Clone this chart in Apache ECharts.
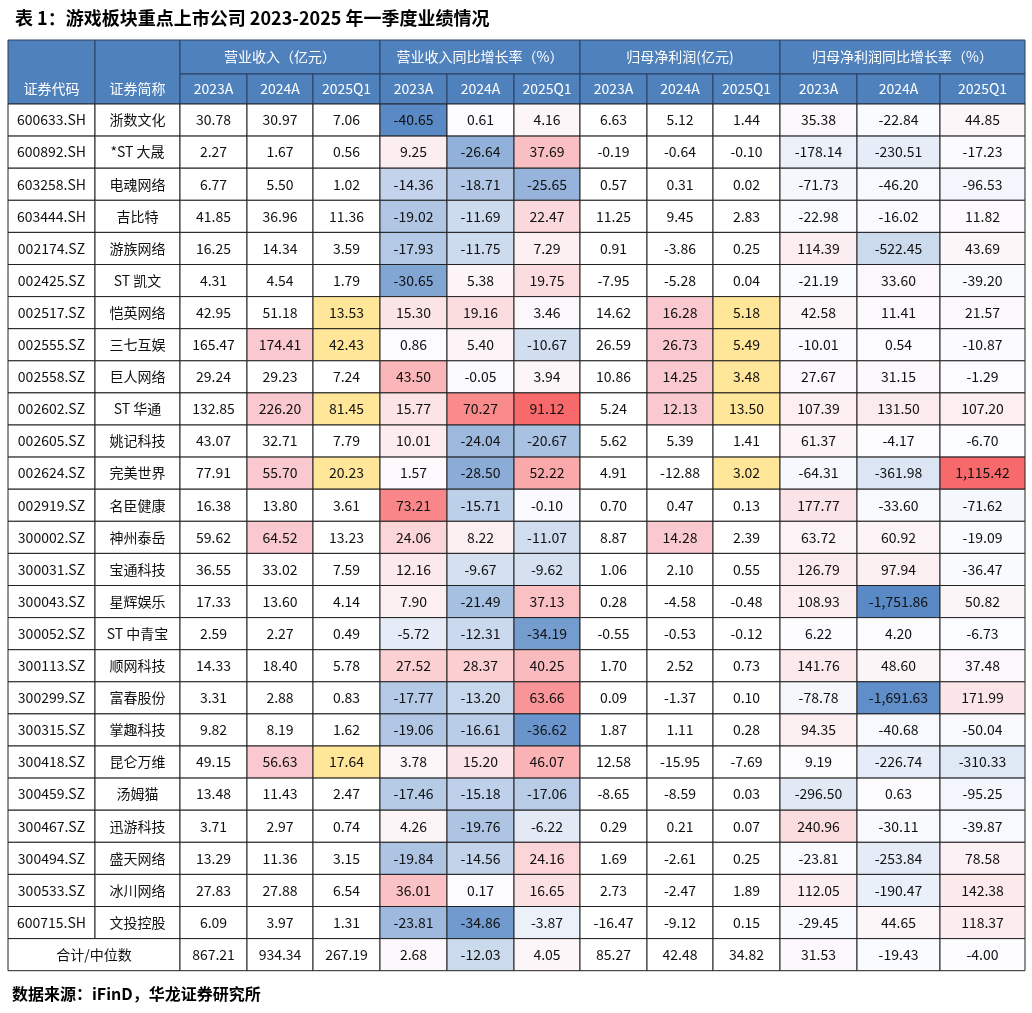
<!DOCTYPE html>
<html><head><meta charset="utf-8">
<script src="https://cdn.jsdelivr.net/npm/echarts@6/dist/echarts.min.js"></script>
<style>html,body{margin:0;padding:0;background:#fff}#c{width:1032px;height:1013px}</style>
</head><body><div id="c"></div>
<script>
const codes=["600633.SH","600892.SH","603258.SH","603444.SH","002174.SZ","002425.SZ","002517.SZ","002555.SZ","002558.SZ","002602.SZ","002605.SZ","002624.SZ","002919.SZ","300002.SZ","300031.SZ","300043.SZ","300052.SZ","300113.SZ","300299.SZ","300315.SZ","300418.SZ","300459.SZ","300467.SZ","300494.SZ","300533.SZ","600715.SH"];
const names=["浙数文化","*ST 大晟","电魂网络","吉比特","游族网络","ST 凯文","恺英网络","三七互娱","巨人网络","ST 华通","姚记科技","完美世界","名臣健康","神州泰岳","宝通科技","星辉娱乐","ST 中青宝","顺网科技","富春股份","掌趣科技","昆仑万维","汤姆猫","迅游科技","盛天网络","冰川网络","文投控股"];
const totalLabel="合计/中位数";
const rev23=[30.78,2.27,6.77,41.85,16.25,4.31,42.95,165.47,29.24,132.85,43.07,77.91,16.38,59.62,36.55,17.33,2.59,14.33,3.31,9.82,49.15,13.48,3.71,13.29,27.83,6.09,867.21];
const rev24=[30.97,1.67,5.50,36.96,14.34,4.54,51.18,174.41,29.23,226.20,32.71,55.70,13.80,64.52,33.02,13.60,2.27,18.40,2.88,8.19,56.63,11.43,2.97,11.36,27.88,3.97,934.34];
const rev25=[7.06,0.56,1.02,11.36,3.59,1.79,13.53,42.43,7.24,81.45,7.79,20.23,3.61,13.23,7.59,4.14,0.49,5.78,0.83,1.62,17.64,2.47,0.74,3.15,6.54,1.31,267.19];
const rg23=[-40.65,9.25,-14.36,-19.02,-17.93,-30.65,15.30,0.86,43.50,15.77,10.01,1.57,73.21,24.06,12.16,7.90,-5.72,27.52,-17.77,-19.06,3.78,-17.46,4.26,-19.84,36.01,-23.81,2.68];
const rg24=[0.61,-26.64,-18.71,-11.69,-11.75,5.38,19.16,5.40,-0.05,70.27,-24.04,-28.50,-15.71,8.22,-9.67,-21.49,-12.31,28.37,-13.20,-16.61,15.20,-15.18,-19.76,-14.56,0.17,-34.86,-12.03];
const rg25=[4.16,37.69,-25.65,22.47,7.29,19.75,3.46,-10.67,3.94,91.12,-20.67,52.22,-0.10,-11.07,-9.62,37.13,-34.19,40.25,63.66,-36.62,46.07,-17.06,-6.22,24.16,16.65,-3.87,4.05];
const np23=[6.63,-0.19,0.57,11.25,0.91,-7.95,14.62,26.59,10.86,5.24,5.62,4.91,0.70,8.87,1.06,0.28,-0.55,1.70,0.09,1.87,12.58,-8.65,0.29,1.69,2.73,-16.47,85.27];
const np24=[5.12,-0.64,0.31,9.45,-3.86,-5.28,16.28,26.73,14.25,12.13,5.39,-12.88,0.47,14.28,2.10,-4.58,-0.53,2.52,-1.37,1.11,-15.95,-8.59,0.21,-2.61,-2.47,-9.12,42.48];
const np25=[1.44,-0.10,0.02,2.83,0.25,0.04,5.18,5.49,3.48,13.50,1.41,3.02,0.13,2.39,0.55,-0.48,-0.12,0.73,0.10,0.28,-7.69,0.03,0.07,0.25,1.89,0.15,34.82];
const ng23=[35.38,-178.14,-71.73,-22.98,114.39,-21.19,42.58,-10.01,27.67,107.39,61.37,-64.31,177.77,63.72,126.79,108.93,6.22,141.76,-78.78,94.35,9.19,-296.50,240.96,-23.81,112.05,-29.45,31.53];
const ng24=[-22.84,-230.51,-46.20,-16.02,-522.45,33.60,11.41,0.54,31.15,131.50,-4.17,-361.98,-33.60,60.92,97.94,-1751.86,4.20,48.60,-1691.63,-40.68,-226.74,0.63,-30.11,-253.84,-190.47,44.65,-19.43];
const ng25=[44.85,-17.23,-96.53,11.82,43.69,-39.20,21.57,-10.87,-1.29,107.20,-6.70,1115.42,-71.62,-19.09,-36.47,50.82,-6.73,37.48,171.99,-50.04,-310.33,-95.25,-39.87,78.58,142.38,118.37,-4.00];
const groupTitles=["营业收入（亿元）","营业收入同比增长率（%）","归母净利润(亿元)","归母净利润同比增长率（%）"];
const subTitles=["2023A","2024A","2025Q1"];

const xE=[0,87,172,239,305,372,439,506,572,639,705,772,849,932,1017];
const RH=32.1, H1=34, H2=64, N=codes.length+1;
const yMax=H2+N*RH;
const cols=[rev23,rev24,rev25,rg23,rg24,rg25,np23,np24,np25,ng23,ng24,ng25];
const HEAD='#4f81bd';
function lerp(a,b,t){return a.map((v,i)=>Math.round(v+(b[i]-v)*t));}
function median(a){const s=[...a].sort((x,y)=>x-y);const m=s.length>>1;return s.length%2?s[m]:(s[m-1]+s[m])/2;}
function scaleColor(v,mn,md,mx){const B=[90,138,198],W=[252,252,255],R=[248,105,107];let c;
  if(v<=md)c=lerp(B,W,(v-mn)/(md-mn||1));else c=lerp(W,R,(v-md)/(mx-md||1));return 'rgb('+c.join(',')+')';}
function fmt(v){return v.toLocaleString('en-US',{minimumFractionDigits:2,maximumFractionDigits:2});}
const cells=[];
function add(x0,x1,y0,y1,text,bg,opt){cells.push(Object.assign({x0,x1,y0,y1,text,bg},opt||{}));}
add(xE[0],xE[1],0,H2,"证券代码",HEAD,{head:1,ty:(H1+H2)/2});
add(xE[1],xE[2],0,H2,"证券简称",HEAD,{head:1,ty:(H1+H2)/2});
groupTitles.forEach((g,i)=>{add(xE[2+i*3],xE[5+i*3],0,H1,g,HEAD,{head:1});
  subTitles.forEach((s,j)=>add(xE[2+i*3+j],xE[3+i*3+j],H1,H2,s,HEAD,{head:1}));});
const scales={};
[[3,4,5],[9,10,11]].forEach(g=>{const all=g.flatMap(k=>cols[k]);const sc={mn:Math.min(...all),md:median(all),mx:Math.max(...all)};g.forEach(k=>scales[k]=sc);});
const topColors={1:'#f9c9cf',2:'#ffe699',7:'#f9c9cf',8:'#ffe699'};
for(let r=0;r<N;r++){
  const y0=H2+r*RH,y1=y0+RH,isT=r===N-1;
  if(isT)add(xE[0],xE[2],y0,y1,totalLabel,'#fff');
  else{add(xE[0],xE[1],y0,y1,codes[r],'#fff');add(xE[1],xE[2],y0,y1,names[r],'#fff');}
  cols.forEach((c,k)=>{let bg='#fff';const v=c[r];
    if(scales[k])bg=scaleColor(v,scales[k].mn,scales[k].md,scales[k].mx);
    else if(topColors[k]&&!isT){const s=c.slice(0,N-1).sort((a,b)=>b-a);if(v>=s[4])bg=topColors[k];}
    add(xE[2+k],xE[3+k],y0,y1,fmt(v),bg);});
}
const chart=echarts.init(document.getElementById('c'));
chart.setOption({
  animation:false,
  title:{text:"表 1：游戏板块重点上市公司 2023-2025 年一季度业绩情况",left:10,top:4,textStyle:{fontFamily:'Noto Sans CJK SC',fontSize:18,fontWeight:'bold',color:'#000'}},
  graphic:[{type:'text',left:12,top:986,style:{text:"数据来源：iFinD，华龙证券研究所",fontFamily:'Noto Sans CJK SC',fontSize:16,fontWeight:'bold',fill:'#000'}}],
  grid:{left:8,top:40,width:1017,height:yMax},
  xAxis:{type:'value',min:0,max:1017,show:false},
  yAxis:{type:'value',min:0,max:yMax,inverse:true,show:false},
  series:[{type:'custom',coordinateSystem:'cartesian2d',
    data:cells.map((c,i)=>[c.x0,c.x1,c.y0,c.y1,i]),
    renderItem:(params,api)=>{const c=cells[api.value(4)];
      const p0=api.coord([api.value(0),api.value(2)]),p1=api.coord([api.value(1),api.value(3)]);
      const ty=c.ty!=null?api.coord([0,c.ty])[1]:(p0[1]+p1[1])/2;
      return {type:'group',children:[
        {type:'rect',shape:{x:p0[0],y:p0[1],width:p1[0]-p0[0],height:p1[1]-p0[1]},
          style:{fill:c.bg,stroke:c.head?'#2a3f5f':'#222',lineWidth:1}},
        {type:'text',x:(p0[0]+p1[0])/2,y:ty,style:{text:c.text,align:'center',verticalAlign:'middle',
          fontFamily:'Noto Sans CJK SC',fontSize:14,fill:c.head?'#fff':'#111'}}]};}
  }]
});
</script></body></html>
